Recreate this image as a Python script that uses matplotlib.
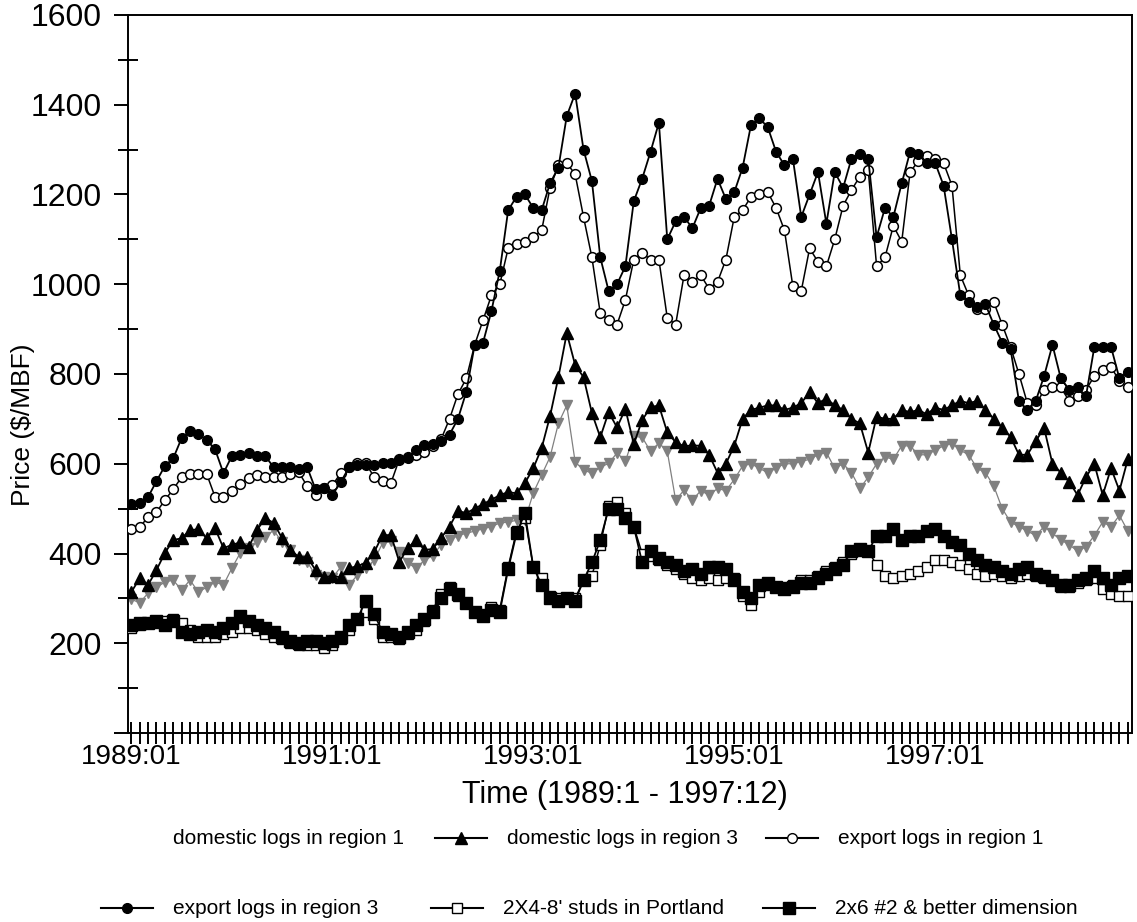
import numpy as np
import matplotlib
matplotlib.use("Agg")
import matplotlib.pyplot as plt
from matplotlib.lines import Line2D
from matplotlib.ticker import MultipleLocator

plt.rcParams['font.family'] = ['Liberation Sans', 'DejaVu Sans']

months = [f"{1989 + i // 12}:{i % 12 + 1:02d}" for i in range(120)]
label_months = ["1989:01", "1991:01", "1993:01", "1995:01", "1997:01"]

export_r3 = [510, 512, 526, 561, 595, 612, 657, 673, 666, 653, 632, 579, 617, 619, 624, 617, 617, 592, 592, 592,
             588, 592, 543, 546, 530, 559, 592, 597, 597, 597, 601, 601, 608, 612, 630, 641,
             645, 650, 665, 700, 760, 865, 870, 940, 1030, 1165, 1195, 1200, 1170, 1165, 1225, 1260, 1375,
             1425, 1300, 1230, 1060, 985, 1000, 1040, 1185, 1235, 1295, 1360, 1100, 1140, 1150, 1125, 1170,
             1175, 1235, 1190, 1205, 1260, 1355, 1370, 1350, 1295, 1265, 1280, 1150, 1200, 1250, 1135, 1250,
             1215, 1280, 1290, 1280, 1105, 1170, 1150, 1225, 1295, 1290, 1270, 1270, 1220, 1100,
             975, 960, 950, 955, 910, 870, 855, 740, 720, 740, 795, 865, 790, 765, 770, 750, 860, 860, 860, 790, 805]

export_r1 = [454, 459, 481, 492, 519, 543, 570, 577, 577, 577, 526, 526, 539, 554, 568, 575, 570, 570, 570, 577,
             581, 550, 530, 546, 552, 579, 592, 601, 601, 570, 561, 557, 610, 615, 619, 626,
             640, 655, 700, 755, 790, 865, 920, 975, 1000, 1080, 1090, 1095, 1105, 1120, 1215, 1265, 1270,
             1245, 1150, 1060, 935, 920, 910, 965, 1055, 1070, 1055, 1055, 925, 910, 1020, 1005, 1020, 990,
             1005, 1055, 1150, 1165, 1195, 1200, 1205, 1170, 1120, 995, 985, 1080, 1050, 1040, 1100, 1175,
             1210, 1240, 1255, 1040, 1060, 1130, 1095, 1250, 1275, 1285, 1280, 1270, 1220, 1020, 975, 945,
             945, 960, 910, 860, 800, 735, 730, 765, 770, 770, 740, 750, 765, 795, 810, 815, 785, 770]

domestic_r3 = [314, 345, 330, 363, 401, 430, 434, 452, 454, 434, 456, 412, 419, 425, 414, 452, 479, 468, 434, 408,
               392, 392, 363, 347, 350, 347, 367, 372, 379, 403, 441, 441, 381, 412, 430, 408,
               410, 435, 460, 495, 490, 500, 510, 520,
               530, 537, 534, 557, 590, 635, 706, 793, 891, 820, 793, 713, 659, 715, 681, 722, 644, 697, 726,
               730, 670, 648, 639, 641,
               640, 620, 580, 600, 640, 700, 720, 725, 730, 730, 720, 725, 735, 760, 735, 745, 730, 720, 700,
               690, 625, 705, 700, 700, 720, 715, 720, 710, 725, 720, 730, 740, 735, 740, 720, 700, 680, 660,
               620, 620, 650, 680, 600, 580, 560, 530, 570, 600, 530, 590, 540, 610]

domestic_r1 = [298, 290, 312, 325, 336, 341, 318, 341, 314, 325, 336, 330, 367, 401, 412, 425, 437, 452, 425, 408,
               385, 381, 352, 347, 345, 370, 330, 352, 367, 385, 423, 428, 403, 379, 367,
               385, 395, 420, 430, 440, 445, 450, 455, 460,
               468, 470, 474, 474, 535, 575, 615, 690, 730, 604, 586, 579, 592, 601, 624, 606, 661, 659, 628,
               646, 628, 519, 541, 519,
               540, 530, 545, 540, 565, 595, 600, 590, 580, 590, 600, 600, 605, 610, 620, 625, 590, 600, 580,
               545, 570, 600, 615, 610, 640, 640, 620, 620, 630, 640, 645, 630, 620, 590, 580, 550, 500, 470,
               460, 450, 440, 460, 445, 430, 420, 405, 415, 440, 470, 460, 485, 450]

studs_2x4 = [235, 240, 245, 245, 250, 255, 245, 230, 215, 215, 215, 220, 225, 235, 235, 230, 220, 215, 210, 200,
             195, 195, 195, 190, 195, 210, 230, 255, 270, 255, 215, 215, 210, 220, 230, 250, 275, 310, 325, 305,
             290, 270, 265, 280, 275, 370, 450, 480, 370, 345, 305, 300, 300, 300, 340, 350, 420, 505, 515, 490,
             460, 400, 395, 385, 375, 365, 355, 345, 340, 345, 340, 345, 345, 305, 285, 315, 330, 325, 325, 330,
             340, 340, 350, 360, 370, 380, 400, 405, 405, 375, 350, 345, 350, 355, 360, 370, 385, 385, 380, 375,
             365, 355, 350, 355, 350, 345, 350, 355, 350, 345, 340, 325, 325, 335, 340, 345, 320, 310, 305, 305]

dim_2x6 = [240, 245, 245, 250, 240, 250, 225, 220, 225, 230, 225, 235, 245, 260, 250, 240, 235, 225, 215, 205,
           200, 205, 205, 200, 205, 215, 240, 255, 295, 265, 225, 220, 215, 225, 240, 255, 270, 300, 320, 310,
           290, 270, 260, 275, 270, 365, 445, 490, 370, 330, 300, 295, 300, 295, 340, 380, 430, 500, 500, 480,
           460, 380, 405, 390, 380, 375, 360, 365, 355, 370, 370, 365, 340, 315, 300, 330, 335, 325, 320, 325,
           335, 335, 345, 355, 365, 375, 405, 410, 405, 440, 440, 455, 430, 440, 440, 450, 455, 440, 425, 420,
           400, 385, 375, 370, 360, 355, 365, 370, 355, 350, 340, 330, 330, 340, 345, 360, 345, 330, 345, 350]

x = np.arange(len(months))

fig = plt.figure(figsize=(11.37, 9.22), dpi=100)
ax = fig.add_axes([128 / 1137, 1 - 733 / 922, (1132 - 128) / 1137, (733 - 15) / 922])

gray = '#808080'
ax.plot(x, domestic_r1, color=gray, lw=0.9, marker='v', ms=7.5, mfc=gray, mec=gray, zorder=2)
ax.plot(x, domestic_r3, color='black', lw=1.3, marker='^', ms=9, mfc='black', mec='black', zorder=3)
ax.plot(x, export_r1, color='black', lw=1.1, marker='o', ms=7, mfc='white', mec='black', mew=1.1, zorder=3)
ax.plot(x, export_r3, color='black', lw=1.3, marker='o', ms=7, mfc='black', mec='black', zorder=4)
ax.plot(x, studs_2x4, color='black', lw=1.1, marker='s', ms=7.5, mfc='white', mec='black', mew=1.0, zorder=3)
ax.plot(x, dim_2x6, color='black', lw=1.3, marker='s', ms=8, mfc='black', mec='black', zorder=4)

ax.set_xlim(-0.4, 119.5)
ax.set_ylim(0, 1600)

for s in ax.spines.values():
    s.set_linewidth(1.4)

ax.set_yticks(np.arange(0, 1601, 200))
ax.yaxis.set_minor_locator(MultipleLocator(100))
ax.set_yticklabels([''] + [str(v) for v in range(200, 1601, 200)])
ax.tick_params(axis='y', which='major', direction='out', length=10, width=1.4, labelsize=23, pad=9)
ax.tick_params(axis='y', which='minor', direction='inout', length=14, width=1.4)

ax.set_xticks(x)
ax.set_xticklabels([m if m in label_months else '' for m in months])
ax.tick_params(axis='x', which='major', direction='inout', length=16, width=1.4, labelsize=20, pad=0)

ax.set_ylabel('Price ($/MBF)', fontsize=19)
ax.yaxis.set_label_coords((23 - 128) / 1004, (733 - 425) / 718)
ax.set_xlabel('Time (1989:1 - 1997:12)', fontsize=22)
ax.xaxis.set_label_coords((625 - 128) / 1004, (733 - 795) / 718)
ax.xaxis.label.set_va('center')
ax.yaxis.label.set_va('center')

# legend drawn manually
entries = [
    ("domestic logs in region 1", None, 173, 838),
    ("domestic logs in region 3", dict(marker='^', mfc='black', ms=9), 507, 838),
    ("export logs in region 1", dict(marker='o', mfc='white', ms=7), 838, 838),
    ("export logs in region 3", dict(marker='o', mfc='black', ms=7), 173, 908),
    ("2X4-8' studs in Portland", dict(marker='s', mfc='white', ms=7.5), 503, 908),
    ("2x6 #2 & better dimension", dict(marker='s', mfc='black', ms=8), 835, 908),
]
W, H = 1137, 922
for label, style, tx, ty in entries:
    yf = 1 - ty / H
    if style is not None:
        x0 = tx - 72
        x1 = tx - 20
        fig.add_artist(Line2D([x0 / W, x1 / W], [yf, yf], color='black', lw=1.5))
        fig.add_artist(Line2D([(x0 + x1) / 2 / W], [yf], color='black', mec='black', lw=0, **style))
    fig.text(tx / W, yf, label, fontsize=15, va='center', ha='left')

fig.savefig('out.png', dpi=100)
